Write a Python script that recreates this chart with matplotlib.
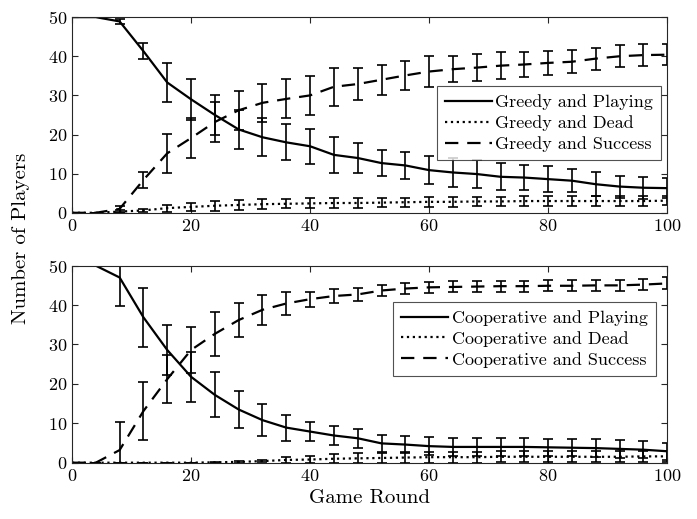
import matplotlib
matplotlib.use("Agg")
import matplotlib.pyplot as plt
import numpy as np

plt.rcParams["font.family"] = ["cmr10", "DejaVu Serif"]
plt.rcParams["mathtext.fontset"] = "cm"
plt.rcParams["axes.formatter.use_mathtext"] = True

rounds = np.arange(0, 101, 4)

# Greedy strategy
greedy_playing = [50, 50, 48.9, 41.3, 33.3, 29.0, 25.0, 21.3, 19.3, 18.0, 17.0, 14.8, 14.0,
                  12.7, 12.1, 10.9, 10.3, 9.9, 9.2, 9.0, 8.6, 8.2, 7.3, 6.7, 6.4, 6.3]
greedy_playing_err = [0, 0, 0.6, 2.0, 5.1, 5.2, 5.0, 5.0, 4.8, 4.6, 4.5, 4.6, 3.8,
                      3.3, 3.4, 3.6, 3.8, 3.5, 3.5, 3.3, 3.4, 3.0, 3.1, 2.8, 2.8, 2.6]
greedy_dead = [0, 0, 0.3, 0.6, 1.2, 1.5, 1.8, 2.0, 2.2, 2.3, 2.4, 2.5, 2.5,
               2.6, 2.7, 2.8, 2.8, 2.9, 2.9, 3.0, 3.0, 3.0, 3.0, 3.0, 3.0, 3.1]
greedy_dead_err = [0, 0, 0.3, 0.4, 0.9, 1.0, 1.3, 1.2, 1.2, 1.2, 1.3, 1.2, 1.2,
                   1.2, 1.2, 1.2, 1.2, 1.2, 1.2, 1.2, 1.2, 1.2, 1.2, 1.2, 1.2, 1.2]
greedy_success = [0, 0, 1.0, 8.4, 15.2, 19.1, 23.2, 26.2, 28.1, 29.1, 30.0, 32.2, 32.9,
                  34.0, 35.1, 36.1, 36.7, 37.1, 37.6, 37.9, 38.3, 38.6, 39.4, 40.0, 40.3, 40.4]
greedy_success_err = [0, 0, 0.8, 2.1, 5.0, 5.1, 5.0, 5.0, 4.9, 5.0, 4.9, 4.8, 4.2,
                      3.8, 3.6, 3.9, 3.4, 3.5, 3.5, 3.2, 3.1, 3.0, 2.8, 2.8, 2.8, 2.7]

# Cooperative strategy
coop_playing = [50, 50, 47.0, 36.9, 28.6, 21.8, 17.2, 13.5, 10.8, 8.9, 7.9, 6.9, 6.2,
                4.9, 4.6, 4.2, 4.0, 4.0, 4.0, 4.0, 3.9, 3.8, 3.7, 3.5, 3.3, 2.9]
coop_playing_err = [0, 0, 7.2, 7.5, 6.3, 6.3, 5.7, 4.7, 4.1, 3.3, 2.5, 2.4, 2.4,
                    2.1, 2.2, 2.2, 2.2, 2.2, 2.2, 2.2, 2.2, 2.2, 2.2, 2.2, 2.2, 2.2]
coop_dead = [0, 0, 0, 0, 0, 0, 0.1, 0.2, 0.4, 0.7, 0.8, 1.0, 1.1,
             1.2, 1.3, 1.4, 1.4, 1.4, 1.5, 1.5, 1.5, 1.5, 1.5, 1.5, 1.6, 1.6]
coop_dead_err = [0, 0, 0, 0, 0, 0, 0.1, 0.2, 0.3, 0.7, 0.8, 1.2, 1.3,
                 1.3, 1.4, 1.4, 1.4, 1.4, 1.4, 1.4, 1.4, 1.4, 1.4, 1.4, 1.4, 1.4]
coop_success = [0, 0, 3.2, 13.1, 21.2, 28.6, 32.7, 36.2, 38.8, 40.4, 41.5, 42.3, 42.7,
                43.7, 44.2, 44.5, 44.6, 44.7, 44.8, 44.8, 44.9, 44.9, 45.0, 45.0, 45.2, 45.5]
coop_success_err = [0, 0, 7.0, 7.4, 6.1, 5.8, 5.5, 4.4, 3.8, 2.9, 1.9, 1.8, 1.6,
                    1.5, 1.4, 1.4, 1.4, 1.4, 1.4, 1.4, 1.4, 1.4, 1.4, 1.4, 1.4, 1.5]

panels = [
    ("Greedy", [(greedy_playing, greedy_playing_err), (greedy_dead, greedy_dead_err),
                (greedy_success, greedy_success_err)]),
    ("Cooperative", [(coop_playing, coop_playing_err), (coop_dead, coop_dead_err),
                     (coop_success, coop_success_err)]),
]
states = ["Playing", "Dead", "Success"]
styles = ["-", ":", (0, (6, 4))]
legend_anchors = [(0.990, 0.647), (0.981, 0.816)]

fig = plt.figure(figsize=(6.97, 5.19), dpi=100)
ax_top = fig.add_axes([0.1033, 0.590, 0.854, 0.377])
ax_bot = fig.add_axes([0.1033, 0.1085, 0.854, 0.3796])

for ax, (name, series), anchor in zip([ax_top, ax_bot], panels, legend_anchors):
    for (vals, errs), state, ls in zip(series, states, styles):
        ax.errorbar(rounds, vals, yerr=errs, color="black", lw=1.6, ls=ls,
                    elinewidth=1.2, capsize=3.8, capthick=1.2,
                    label=f"{name} and {state}")
    ax.set_xlim(0, 100)
    ax.set_ylim(0, 50)
    ax.set_xticks(np.arange(0, 101, 20))
    ax.set_yticks(np.arange(0, 51, 10))
    ax.tick_params(direction="in", top=True, right=True, labelsize=13,
                   length=4, color="#262626")
    for s in ax.spines.values():
        s.set_color("#262626")
        s.set_linewidth(0.8)
    handles, labels = ax.get_legend_handles_labels()
    handles = [h[0] for h in handles]
    leg = ax.legend(handles, labels, loc="upper right", bbox_to_anchor=anchor,
                    fontsize=13, frameon=True, fancybox=False, edgecolor="#262626",
                    handlelength=2.6, handletextpad=0.2, borderpad=0.45,
                    labelspacing=0.28, borderaxespad=0.0)
    leg.get_frame().set_linewidth(0.8)

ax_bot.set_xlabel("Game Round", fontsize=15)
fig.text(0.03, 0.54, "Number of Players", rotation=90, fontsize=15,
         ha="center", va="center")

fig.savefig("out.png", dpi=100)
